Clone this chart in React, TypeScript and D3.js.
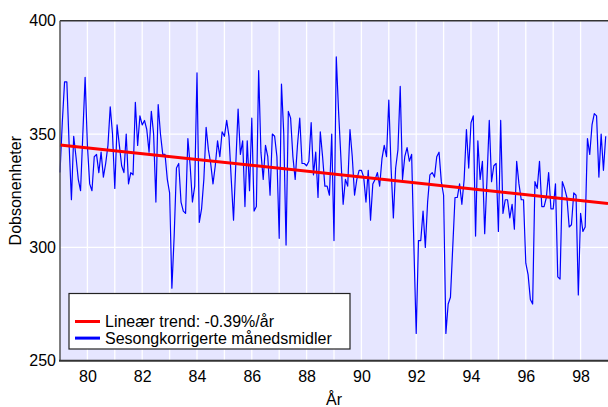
import { useEffect, useRef } from "react";
import * as d3 from "d3";

const startYear = 1979;
const endYear = 1999;

// sesongkorrigerte månedsmidler, jan 1979 - des 1998 (DU)
const ozone = [
  333, 355, 373, 373, 345, 321, 349, 340, 330, 325, 350, 375,
  345, 328, 325, 340, 341, 333, 342, 331, 337, 345, 362, 350,
  326, 354, 345, 336, 333, 350, 328, 333, 332, 364, 345, 358,
  354, 356, 352, 342, 360, 350, 320, 363, 350, 341, 341, 330,
  324, 282, 305, 335, 337, 320, 316, 315, 348, 336, 320, 327,
  377, 311, 317, 330, 353, 343, 337, 328, 336, 347, 340, 351,
  349, 356, 349, 330, 312, 337, 361, 341, 347, 318, 347, 325,
  357, 316, 318, 378, 342, 330, 345, 340, 323, 350, 349, 340,
  304, 372, 350, 301, 360, 357, 340, 330, 345, 357, 337, 337,
  336, 338, 355, 332, 342, 322, 351, 340, 327, 327, 323, 350,
  303, 384, 360, 340, 319, 330, 327, 352, 340, 323, 330, 334,
  334, 331, 320, 334, 312, 328, 330, 333, 327, 339, 345, 340,
  365, 335, 313, 335, 343, 371, 330, 340, 344, 338, 341, 300,
  262, 303, 303, 316, 300, 320, 332, 333, 331, 340, 342, 329,
  323, 262, 275, 278, 300, 322, 322, 328, 319, 330, 352, 335,
  355, 358, 305, 347, 330, 338, 306, 330, 356, 329, 336, 337,
  307, 356, 315, 321, 321, 313, 319, 308, 338, 328, 321, 321,
  293, 288, 277, 275, 329, 326, 338, 318, 318, 322, 333, 317,
  317, 328, 287, 286, 329, 326, 322, 309, 310, 324, 323, 279,
  315, 307, 309, 348, 341, 354, 359, 358, 331, 350, 334, 349,
];

// lineær trend: verdi ved start og endring per år
const trendStart = 345.2;
const trendSlope = -1.29;

const yTicks = [250, 300, 350, 400];
const xLabelYears = [1980, 1982, 1984, 1986, 1988, 1990, 1992, 1994, 1996, 1998];
const legendLabels = ["Lineær trend: -0.39%/år", "Sesongkorrigerte månedsmidler"];
const legendColors = ["#ff0000", "#0000ff"];

const width = 608;
const height = 407;
const font = "Liberation Sans, Arial, Helvetica, sans-serif";

export default function App() {
  const ref = useRef<SVGSVGElement | null>(null);

  useEffect(() => {
    const svg = d3.select(ref.current);
    svg.selectAll("*").remove();

    const margin = { top: 20.7, right: 0, bottom: 46.3, left: 60 };
    const x = d3.scaleLinear().domain([startYear, endYear]).range([margin.left, width - margin.right]);
    const y = d3.scaleLinear().domain([250, 400]).range([height - margin.bottom, margin.top]);

    svg.append("rect")
      .attr("x", x(startYear))
      .attr("y", y(400))
      .attr("width", x(endYear) - x(startYear))
      .attr("height", y(250) - y(400))
      .attr("fill", "#e6e6ff");

    // rutenett
    svg.append("g")
      .selectAll("line")
      .data(d3.range(startYear + 1, endYear))
      .join("line")
      .attr("x1", (d) => x(d))
      .attr("x2", (d) => x(d))
      .attr("y1", y(400))
      .attr("y2", y(250))
      .attr("stroke", "#fff")
      .attr("stroke-width", 1.3);
    svg.append("g")
      .selectAll("line")
      .data(yTicks.slice(1, -1))
      .join("line")
      .attr("x1", x(startYear))
      .attr("x2", x(endYear))
      .attr("y1", (d) => y(d))
      .attr("y2", (d) => y(d))
      .attr("stroke", "#fff")
      .attr("stroke-width", 1.3);

    const line = d3.line<number>()
      .x((d, i) => x(startYear + i / 12))
      .y((d) => y(d));

    svg.append("path")
      .datum(ozone)
      .attr("d", line)
      .attr("fill", "none")
      .attr("stroke", "#0000ff")
      .attr("stroke-width", 1.2)
      .attr("stroke-linejoin", "round");

    svg.append("line")
      .attr("x1", x(startYear))
      .attr("x2", x(endYear))
      .attr("y1", y(trendStart))
      .attr("y2", y(trendStart + trendSlope * (endYear - startYear)))
      .attr("stroke", "#ff0000")
      .attr("stroke-width", 3);

    // ramme
    svg.append("line")
      .attr("x1", x(startYear)).attr("x2", x(endYear))
      .attr("y1", y(400)).attr("y2", y(400))
      .attr("stroke", "#333").attr("stroke-width", 1.5);
    svg.append("line")
      .attr("x1", x(startYear)).attr("x2", x(startYear))
      .attr("y1", y(400)).attr("y2", y(250))
      .attr("stroke", "#555").attr("stroke-width", 1.5);
    svg.append("line")
      .attr("x1", x(startYear) - 1).attr("x2", x(endYear))
      .attr("y1", y(250)).attr("y2", y(250))
      .attr("stroke", "#333").attr("stroke-width", 2);

    const yAxis = svg.append("g")
      .attr("transform", `translate(${x(startYear)},0)`)
      .call(d3.axisLeft(y).tickValues(yTicks).tickSize(0).tickPadding(4).tickFormat(d3.format("d")));
    yAxis.select(".domain").remove();
    yAxis.selectAll("text").attr("font-size", 16).attr("font-family", font).attr("fill", "#000");

    const xAxis = svg.append("g")
      .attr("transform", `translate(0,${y(250)})`)
      .call(d3.axisBottom(x).tickValues(xLabelYears).tickSize(0).tickPadding(9.5)
        .tickFormat((d) => String(+d % 100).padStart(2, "0")));
    xAxis.select(".domain").remove();
    xAxis.selectAll("text").attr("font-size", 16).attr("font-family", font).attr("fill", "#000");

    svg.append("text")
      .attr("transform", `translate(21,${(y(400) + y(250)) / 2}) rotate(-90)`)
      .attr("text-anchor", "middle")
      .attr("font-size", 16)
      .attr("font-family", font)
      .text("Dobsonenheter");

    svg.append("text")
      .attr("x", (x(startYear) + x(endYear)) / 2)
      .attr("y", 405)
      .attr("text-anchor", "middle")
      .attr("font-size", 16)
      .attr("font-family", font)
      .text("År");

    // legende
    const legend = svg.append("g").attr("transform", "translate(69,293.5)");
    legend.append("rect")
      .attr("width", 281)
      .attr("height", 55.5)
      .attr("fill", "#fff")
      .attr("stroke", "#222")
      .attr("stroke-width", 1.2);
    const items = legend.selectAll("g.item")
      .data(legendLabels)
      .join("g")
      .attr("class", "item")
      .attr("transform", (d, i) => `translate(0,${28 + i * 16.6})`);
    items.append("line")
      .attr("x1", 6).attr("x2", 31)
      .attr("stroke", (d, i) => legendColors[i])
      .attr("stroke-width", 3);
    items.append("text")
      .attr("x", 36)
      .attr("dy", "0.35em")
      .attr("font-size", 16)
      .attr("font-family", font)
      .text((d) => d);
  }, []);

  return (
    <svg
      ref={ref}
      width={width}
      height={height}
      style={{ position: "absolute", left: 0, top: 0, background: "#fff" }}
    ></svg>
  );
}
